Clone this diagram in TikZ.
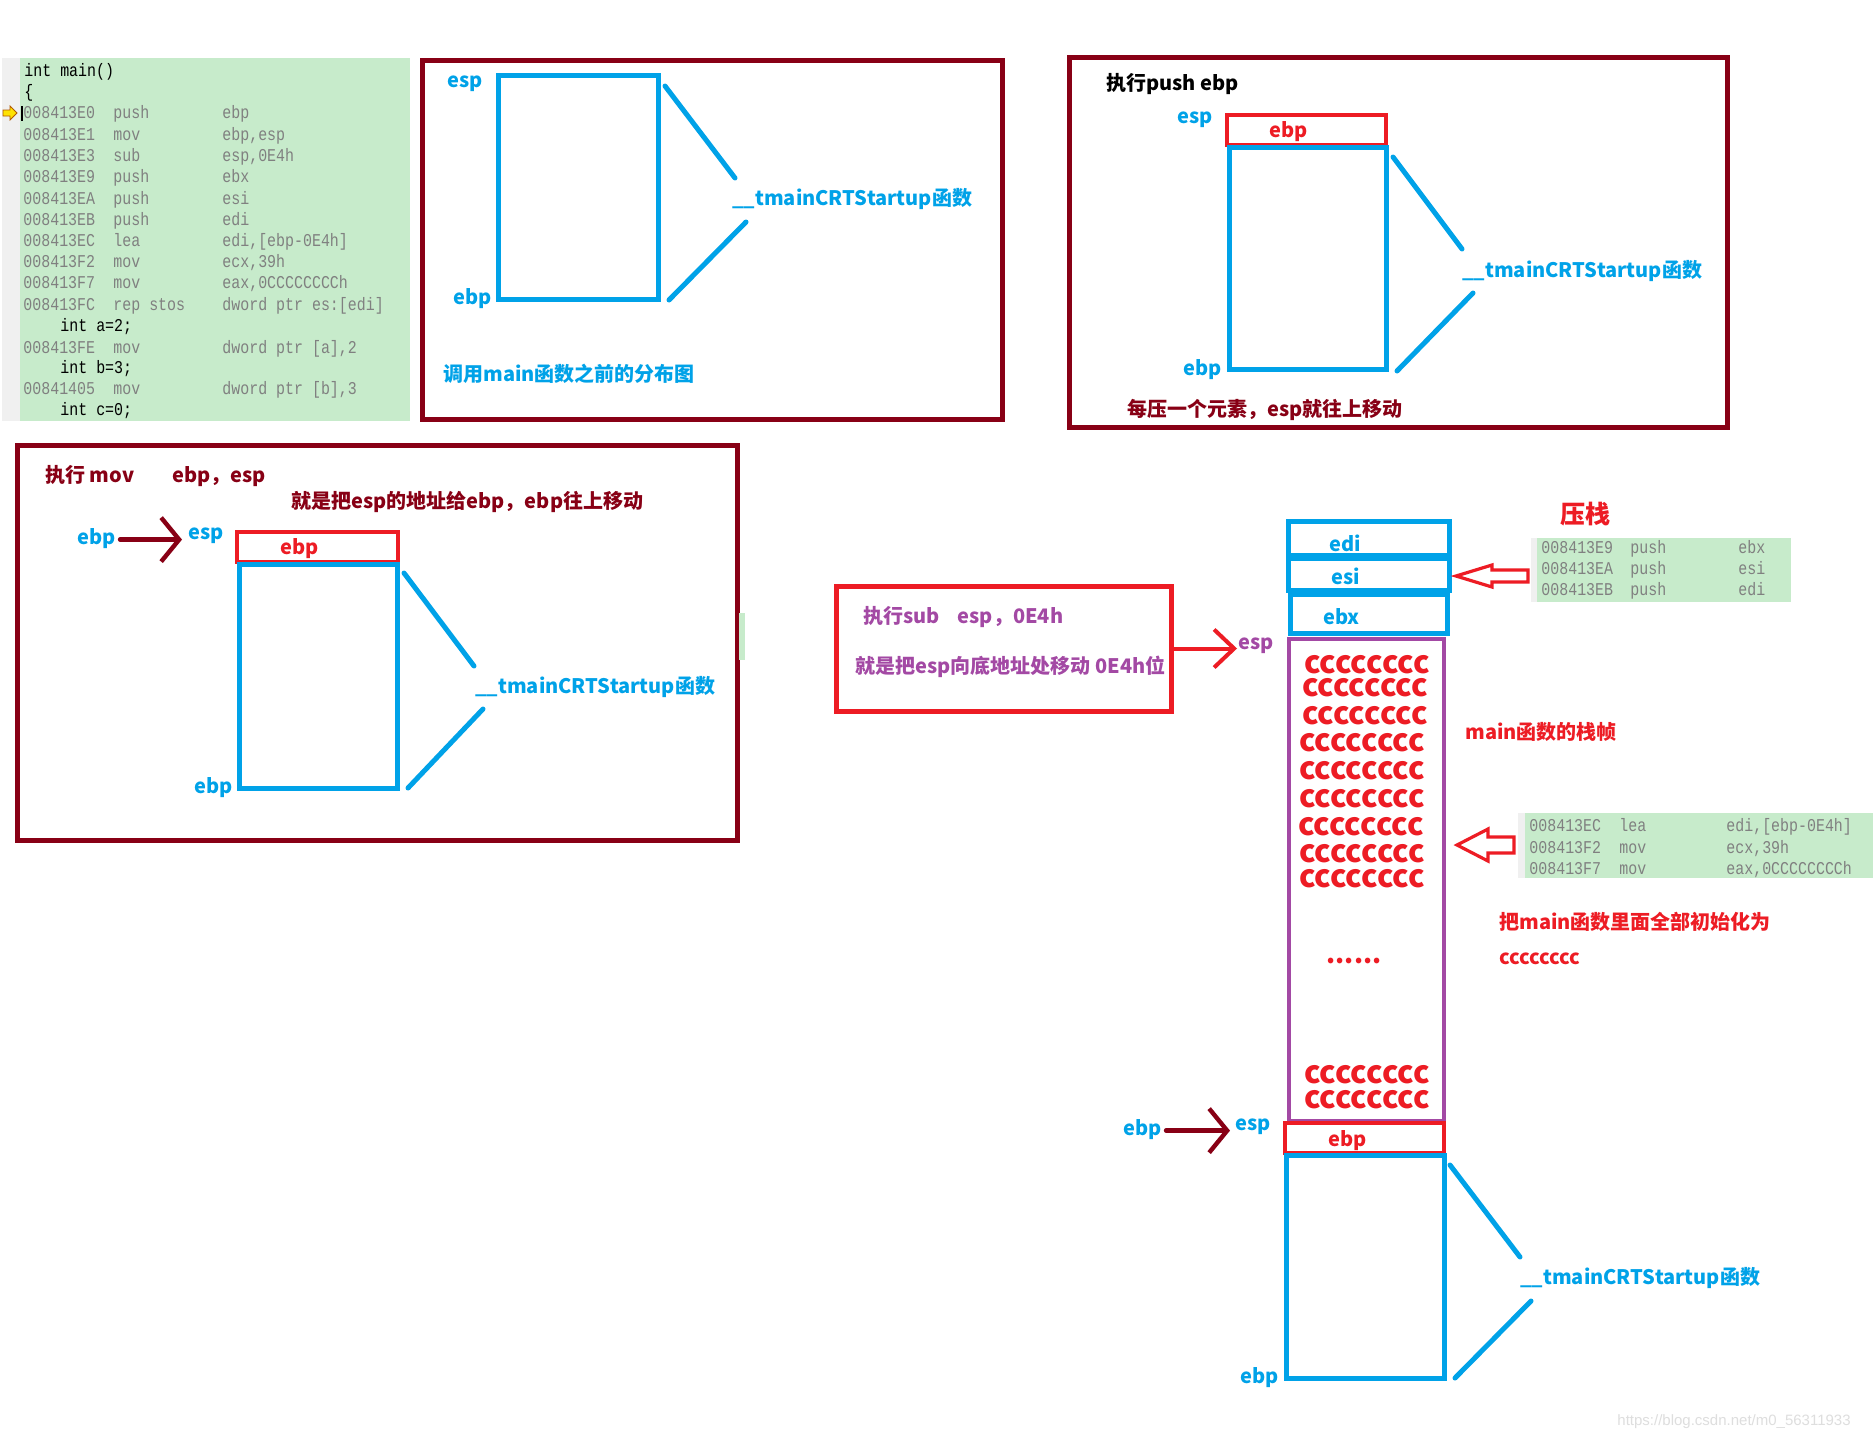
\documentclass[tikz,border=0pt]{standalone}
\usepackage{fontspec}
\usepackage{tikz}
\usetikzlibrary{arrows.meta}
\newfontfamily\cjk{Noto Sans CJK SC}
\newfontfamily\codefont[FakeStretch=0.83]{Liberation Mono}
\newfontfamily\wmfont{Liberation Sans}
\definecolor{st-blue}{HTML}{00A2E8}
\definecolor{st-red}{HTML}{ED1C24}
\definecolor{st-darkred}{HTML}{880015}
\definecolor{st-purple}{HTML}{A349A4}
\definecolor{st-green}{HTML}{C7EBCB}
\definecolor{st-gutter}{HTML}{F0F0F0}
\definecolor{st-gray}{HTML}{808080}
\tikzset{
  lbl/.style={font=\cjk\bfseries\fontsize{10}{12}\selectfont, anchor=west, inner sep=0pt, text height=7pt, text depth=2pt, yshift=-1.3pt},
  code/.style={font=\codefont\fontsize{9}{10}\selectfont, anchor=west, inner sep=0pt, text height=5.5pt, text depth=0pt, text=st-gray},
  ccc/.style={font=\cjk\bfseries\fontsize{15.5}{16}\selectfont, text=st-red, inner sep=0pt, text height=7.8pt, text depth=0pt, yshift=-1pt},
  panel/.style={draw=st-darkred, line width=2.5pt},
  stackbox/.style={draw=st-blue, line width=2.5pt},
  pushbox/.style={draw=st-red, line width=2pt},
  tie/.style={st-blue, line width=2.5pt, line cap=round},
  movearrow/.style={st-darkred, line width=2.2pt, line cap=round, -{Straight Barb[length=9pt,width=22pt]}},
  subarrow/.style={st-red, line width=2pt, -{Straight Barb[length=10pt,width=19pt]}},
  hollow/.style={draw=st-red, line width=1.6pt, line join=miter},
}
\begin{document}
\begin{tikzpicture}[x=0.5pt,y=-0.5pt]
\useasboundingbox (0,0) rectangle (1873,1441);
\fill[white] (0,0) rectangle (1873,1441);

\fill[st-gutter] (2,58) rectangle (20,421);
\fill[st-green] (20,58) rectangle (410,421);
\node[code,text=black] (src0) at (24,71) {int main()};
\node[code,text=black] (src1) at (24,92) {\{};
\foreach \y/\ad/\mn/\op [count=\i] in {
  113/008413E0/push/ebp,
  135/008413E1/mov/{ebp,esp},
  156/008413E3/sub/{esp,0E4h},
  177/008413E9/push/ebx,
  199/008413EA/push/esi,
  220/008413EB/push/edi,
  241/008413EC/lea/{edi,[ebp-0E4h]},
  262/008413F2/mov/{ecx,39h},
  283/008413F7/mov/{eax,0CCCCCCCCh},
  305/008413FC/rep stos/{dword ptr es:[edi]},
  348/008413FE/mov/{dword ptr [a],2},
  389/00841405/mov/{dword ptr [b],3}}
{
  \node[code] (ad\i) at (23,\y) {\ad};
  \node[code] (mn\i) at (113,\y) {\mn};
  \node[code] (op\i) at (222,\y) {\op};
}
\node[code,text=black] (srca) at (60,326) {int a=2;};
\node[code,text=black] (srcb) at (60,368) {int b=3;};
\node[code,text=black] (srcc) at (60,410) {int c=0;};
\draw[black, line width=0.6pt] (22,106) -- (22,121);
\filldraw[fill=yellow!85!orange, draw=orange!70!black, line width=0.4pt] (3,110) -- (10,110) -- (10,106) -- (17,113) -- (10,120) -- (10,116) -- (3,116) -- cycle;

\draw[panel] (422,60) rectangle (1002,419);
\draw[stackbox] (498,75) rectangle (658,299);
\node[lbl,text=st-blue] (esp2) at (447,80) {esp};
\node[lbl,text=st-blue] (ebp2) at (453,297) {ebp};
\node[lbl,text=st-blue] (fn2) at (732,198) {\_\_tmainCRTStartup函数};
\draw[tie] (665,86) -- (735,178);
\draw[tie] (746,222) -- (669,300);
\node[lbl,text=st-blue] (cap2) at (443,374) {调用main函数之前的分布图};

\draw[panel] (1069,57) rectangle (1727,427);
\node[lbl] (title3) at (1106,83) {执行push ebp};
\node[lbl,text=st-blue] (esp3) at (1177,116) {esp};
\draw[pushbox] (1227,115) rectangle (1386,145);
\node[lbl,text=st-red] (push3) at (1269,130) {ebp};
\draw[stackbox] (1229,147) rectangle (1386,369);
\node[lbl,text=st-blue] (ebp3) at (1183,368) {ebp};
\node[lbl,text=st-blue] (fn3) at (1462,270) {\_\_tmainCRTStartup函数};
\draw[tie] (1393,157) -- (1462,249);
\draw[tie] (1473,293) -- (1397,371);
\node[lbl,text=st-darkred] (cap3) at (1127,409) {每压一个元素，esp就往上移动};

\draw[panel] (17,445) rectangle (737,840);
\fill[st-green] (739,613) rectangle (745,660);
\node[lbl,text=st-darkred] (title4) at (45,475) {执行 mov\hspace{19pt}ebp，esp};
\node[lbl,text=st-darkred] (cap4) at (291,501) {就是把esp的地址给ebp，ebp往上移动};
\node[lbl,text=st-blue] (ebp4a) at (77,537) {ebp};
\node[lbl,text=st-blue] (esp4) at (188,532) {esp};
\draw[movearrow, shorten <=2pt, shorten >=3pt] (ebp4a.east) -- (esp4.west |- ebp4a.east);
\draw[pushbox] (237,532) rectangle (398,562);
\node[lbl,text=st-red] (push4) at (280,547) {ebp};
\draw[stackbox] (239,564) rectangle (397,788);
\node[lbl,text=st-blue] (ebp4b) at (194,786) {ebp};
\node[lbl,text=st-blue] (fn4) at (475,686) {\_\_tmainCRTStartup函数};
\draw[tie] (404,573) -- (474,666);
\draw[tie] (483,709) -- (408,788);

\node[draw=st-red, line width=2.5pt, minimum width=167.5pt, minimum height=62.5pt, inner sep=0pt] (subbox) at (1003.5,648.5) {};
\node[lbl,text=st-purple] (sub1) at (863,616) {执行sub\hspace{9pt}esp，0E4h};
\node[lbl,text=st-purple] (sub2) at (855,666) {就是把esp向底地址处移动 0E4h位};
\node[lbl,text=st-purple] (espS) at (1238,642) {esp};
\draw[subarrow, shorten >=0.5pt] (subbox.east) -- (espS.west |- subbox.east);

\draw[stackbox] (1288,521) rectangle (1449,555);
\draw[stackbox] (1288,558) rectangle (1449,590);
\draw[stackbox] (1290,594) rectangle (1447,633);
\node[lbl,text=st-blue] (edi) at (1329,544) {edi};
\node[lbl,text=st-blue] (esi) at (1331,577) {esi};
\node[lbl,text=st-blue] (ebx) at (1323,617) {ebx};
\draw[st-purple, line width=2pt] (1289,639) rectangle (1444,1121);
\foreach \y/\x [count=\i] in {664/1367,687/1365,715/1365,742/1362,770/1362,798/1362,826/1361,853/1362,878/1362,1074/1367,1099/1367}
  \node[ccc] (cc\i) at (\x,\y) {cccccccc};
\node[ccc,font=\cjk\bfseries\fontsize{13}{14}\selectfont] (dots) at (1354,954) {......};
\draw[pushbox] (1285,1123) rectangle (1444,1153);
\node[lbl,text=st-red] (push5) at (1328,1139) {ebp};
\draw[stackbox] (1286,1155) rectangle (1444,1378);
\node[lbl,text=st-blue] (ebp5a) at (1123,1128) {ebp};
\node[lbl,text=st-blue] (esp5) at (1235,1123) {esp};
\draw[movearrow, shorten <=2pt, shorten >=2.5pt] (ebp5a.east) -- (esp5.west |- ebp5a.east);
\node[lbl,text=st-blue] (ebp5b) at (1240,1376) {ebp};
\node[lbl,text=st-blue] (fn5) at (1520,1277) {\_\_tmainCRTStartup函数};
\draw[tie] (1450,1165) -- (1520,1257);
\draw[tie] (1531,1301) -- (1455,1378);

\node[lbl,text=st-red,font=\cjk\bfseries\fontsize{12.5}{14}\selectfont] (pushcap) at (1560,516) {压栈};
\fill[st-gutter] (1531,538) rectangle (1537,602);
\fill[st-green] (1537,538) rectangle (1791,602);
\foreach \y/\ad/\op [count=\i] in {548/008413E9/ebx,569/008413EA/esi,590/008413EB/edi} {
  \node[code] (pa\i) at (1541,\y) {\ad};
  \node[code] (pm\i) at (1630,\y) {push};
  \node[code] (po\i) at (1738,\y) {\op};
}
\draw[hollow] (1456,576) -- (1492,565) -- (1492,570) -- (1528,570) -- (1528,582) -- (1492,582) -- (1492,587) -- cycle;

\node[lbl,text=st-red] (framecap) at (1465,732) {main函数的栈帧};
\fill[st-gutter] (1518,813) rectangle (1525,878);
\fill[st-green] (1525,813) rectangle (1873,878);
\foreach \y/\ad/\mn/\op [count=\i] in {826/008413EC/lea/{edi,[ebp-0E4h]},848/008413F2/mov/{ecx,39h},869/008413F7/mov/{eax,0CCCCCCCCh}} {
  \node[code] (ia\i) at (1529,\y) {\ad};
  \node[code] (im\i) at (1619,\y) {\mn};
  \node[code] (io\i) at (1726,\y) {\op};
}
\draw[hollow] (1457,845) -- (1488,829) -- (1488,837) -- (1514,837) -- (1514,853) -- (1488,853) -- (1488,861) -- cycle;
\node[lbl,text=st-red] (initcap) at (1499,922) {把main函数里面全部初始化为};
\node[lbl,text=st-red] (initval) at (1499,957) {cccccccc};

\node[font=\wmfont\fontsize{7.5}{8}\selectfont, text=black!13, anchor=west, inner sep=0pt] (wm) at (1617,1422) {https://blog.csdn.net/m0\_56311933};
\end{tikzpicture}
\end{document}
